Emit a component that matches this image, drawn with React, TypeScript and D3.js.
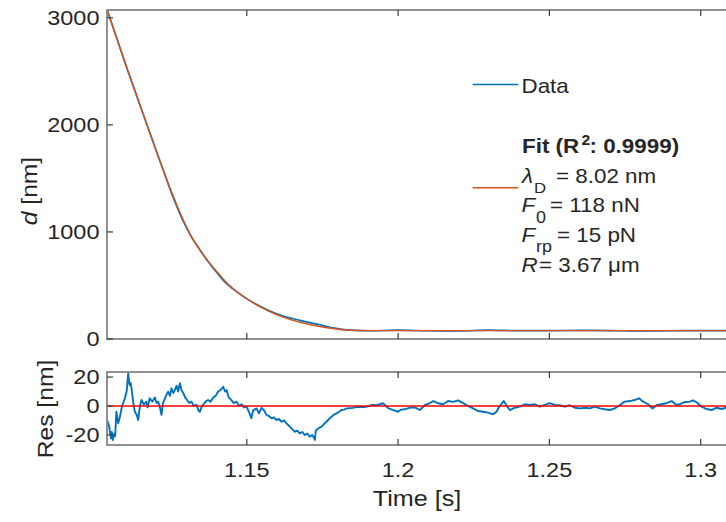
import React from 'react';
import * as d3 from 'd3';

// ---------- data ----------
const fitT = [1.1038, 1.1104, 1.1174, 1.1217, 1.1252, 1.1290, 1.1317, 1.1345, 1.1372, 1.1402, 1.1428, 1.1454, 1.1501, 1.1534, 1.1567, 1.1620, 1.1676, 1.1732, 1.1785, 1.1841, 1.1907, 1.2500, 1.3200];
const fitD = [3073, 2531, 1971, 1630, 1368, 1112, 957, 831, 727, 626, 542, 471, 374, 316, 268, 205, 156, 122, 98, 82, 78, 78, 78];

const dataT = [1.1038, 1.1104, 1.1174, 1.1217, 1.1252, 1.1290, 1.1317, 1.1345, 1.1372, 1.1402, 1.1428, 1.1454, 1.1501, 1.1534, 1.1567, 1.1620, 1.1676, 1.1732, 1.1785, 1.1841, 1.1907, 1.2000, 1.2100, 1.2200, 1.2300, 1.2400, 1.2500, 1.2600, 1.2700, 1.2800, 1.2900, 1.3000, 1.3200];
const dataD = [3080, 2526, 1968, 1633, 1358, 1101, 954, 833, 723, 616, 531, 468, 375, 319, 274, 215, 174, 139, 104, 83, 77, 82, 77, 76, 83, 78, 79, 80, 79, 75, 77, 78, 79];

const resT = [1.1038, 1.1045, 1.1051, 1.1054, 1.1057, 1.1062, 1.1065, 1.1069, 1.1075, 1.1080, 1.1088, 1.1097, 1.1103, 1.1108, 1.1111, 1.1113, 1.1116, 1.1119, 1.1125, 1.1130, 1.1136, 1.1141, 1.1147, 1.1152, 1.1160, 1.1168, 1.1172, 1.1179, 1.1188, 1.1196, 1.1202, 1.1207, 1.1213, 1.1218, 1.1223, 1.1229, 1.1235, 1.1240, 1.1246, 1.1251, 1.1257, 1.1262, 1.1268, 1.1273, 1.1279, 1.1284, 1.1290, 1.1296, 1.1303, 1.1310, 1.1317, 1.1325, 1.1334, 1.1340, 1.1345, 1.1350, 1.1356, 1.1364, 1.1372, 1.1380, 1.1389, 1.1397, 1.1405, 1.1413, 1.1422, 1.1428, 1.1433, 1.1440, 1.1449, 1.1457, 1.1466, 1.1474, 1.1483, 1.1490, 1.1499, 1.1507, 1.1515, 1.1521, 1.1532, 1.1540, 1.1549, 1.1557, 1.1565, 1.1573, 1.1582, 1.1590, 1.1598, 1.1606, 1.1615, 1.1623, 1.1631, 1.1636, 1.1642, 1.1650, 1.1659, 1.1667, 1.1675, 1.1683, 1.1692, 1.1700, 1.1708, 1.1716, 1.1722, 1.1725, 1.1728, 1.1730, 1.1740, 1.1747, 1.1755, 1.1763, 1.1772, 1.1780, 1.1788, 1.1796, 1.1805, 1.1813, 1.1822, 1.1830, 1.1840, 1.1851, 1.1862, 1.1873, 1.1885, 1.1896, 1.1907, 1.1917, 1.1928, 1.1940, 1.1950, 1.1960, 1.1967, 1.1984, 1.2000, 1.2010, 1.2022, 1.2039, 1.2055, 1.2072, 1.2088, 1.2105, 1.2116, 1.2132, 1.2149, 1.2165, 1.2182, 1.2198, 1.2215, 1.2231, 1.2248, 1.2264, 1.2281, 1.2297, 1.2314, 1.2325, 1.2336, 1.2349, 1.2358, 1.2369, 1.2386, 1.2402, 1.2419, 1.2435, 1.2452, 1.2468, 1.2485, 1.2501, 1.2518, 1.2534, 1.2551, 1.2567, 1.2584, 1.2601, 1.2617, 1.2634, 1.2650, 1.2667, 1.2683, 1.2700, 1.2716, 1.2733, 1.2749, 1.2766, 1.2782, 1.2796, 1.2810, 1.2826, 1.2841, 1.2854, 1.2870, 1.2887, 1.2904, 1.2920, 1.2931, 1.2947, 1.2964, 1.2975, 1.2986, 1.3003, 1.3019, 1.3036, 1.3052, 1.3069, 1.3083, 1.3100];
const resV = [-9.7, -14, -22.4, -18, -23.5, -19, -21, -4, -12, -8, 0, 5.3, 10, 22.6, 17, 14.5, 16, 12.2, 2, -4, -6, -9.7, 0, 4.1, 1, 3, -1, 5.3, 3, 5.9, 2, 3, -1, -6.2, 2, 5, 8, 9.9, 7, 12.2, 9, 11, 14, 10, 15.7, 11, 9, 6, 4.1, 2, 3, 0, 0.7, -3, -4, -1, 1, 3, 4.1, 3, 5.9, 7, 9.9, 11, 13.3, 10, 11, 6, 4.1, 2, 3, 0, 1.2, -1, -0.5, -4, -8.5, -3, -1.7, -5, -1.3, -3, -6.2, -7, -8.5, -8, -9.7, -9, -10.9, -10, -12, -13, -14.3, -16, -17.8, -17, -18.9, -18, -20.1, -19, -21.3, -20, -22, -23.5, -17, -16.6, -15, -14.3, -12.5, -10.9, -9, -7.4, -6, -5.1, -4, -2.8, -2.5, -1.7, -1.5, -1.3, -0.8, -0.5, -0.7, -0.5, 0.3, 0.7, 0.5, 1.2, 1.9, 0, -1.5, -2.8, -4, -2.5, -2.3, -1.2, -1.0, -2.8, 0.5, 1.9, 3.4, 1.9, 1.2, 3.4, 2.8, 3.9, 2.0, 0, -1.7, -3.5, -4, -4.6, -5.8, -4, 0, 3.4, 0.5, -2.8, -1.2, -0.5, 1.2, 0.7, 1.2, -0.5, 0.7, 1.9, 0.7, 0.5, -0.5, 0.5, -1.2, -1.7, -1.2, -1.7, -0.5, -1.7, -2.3, -2.8, -1.7, 0.7, 3.0, 3.4, 4.1, 5.3, 3.0, 1.2, -1.7, 0.5, 1.2, 1.9, 3.4, 0.7, 1.2, 2.6, 3.0, 3.9, 2.6, -0.5, -2.1, -2.8, -1.2, -2.1, -1.2, -0.5];

const xTicks = [1.15, 1.2, 1.25, 1.3];
const xTickLabels = ['1.15', '1.2', '1.25', '1.3'];
const dTicks = [0, 1000, 2000, 3000];
const dTickLabels = ['0', '1000', '2000', '3000'];
const resTicks = [-20, 0, 20];
const resTickLabels = ['-20', '0', '20'];

const BLUE = '#0072BD';
const ORANGE = '#D95319';
const RED = '#FF0000';
const TXT = '#262626';
const FONT = '"Liberation Sans", Arial, Helvetica, sans-serif';
const SX = 1.12;

type TP = { x: number; y: number; size: number; anchor?: string; weight?: string; italic?: boolean; rotate?: number; fill?: string; dy?: string; children: React.ReactNode };
function T({ x, y, size, anchor = 'start', weight = 'normal', italic = false, rotate = 0, fill = TXT, dy, children }: TP) {
  return (
    <g transform={`translate(${x},${y})${rotate ? ` rotate(${rotate})` : ''} scale(${SX},1)`}>
      <text x={0} y={0} dy={dy} textAnchor={anchor as any} fontSize={size} fontWeight={weight} fontStyle={italic ? 'italic' : 'normal'} fill={fill} fontFamily={FONT}>
        {children}
      </text>
    </g>
  );
}

export default function App() {
  const W = 726, H = 522;
  const L = 107, R = 760;
  const topY0 = 10, topY1 = 339;
  const resY0 = 372, resY1 = 445;

  const x = d3.scaleLinear().domain([1.1038, 1.3196]).range([L, R]);
  const yD = d3.scaleLinear().domain([0, 3073]).range([topY1, topY0]);
  const yR = d3.scaleLinear().domain([-27, 23.5]).range([resY1, resY0]);

  const lineD = d3.line<[number, number]>().x(d => x(d[0])).y(d => yD(d[1])).curve(d3.curveMonotoneX);
  const lineR = d3.line<[number, number]>().x(d => x(d[0])).y(d => yR(d[1]));

  const fitPts = fitT.map((t, i) => [t, fitD[i]] as [number, number]);
  const dataPts = dataT.map((t, i) => [t, dataD[i]] as [number, number]);
  const resPts = resT.map((t, i) => [t, resV[i]] as [number, number]);

  const BOX = '#858585';
  const TICK = '#3a3a3a';
  const tl = 6;

  return (
    <svg width={W} height={H} style={{ position: 'absolute', left: 0, top: 0, background: '#fff' }}>
      <rect x={0} y={0} width={W} height={H} fill="#fff" />
      <defs>
        <clipPath id="clipTop"><rect x={L} y={topY0} width={R - L} height={topY1 - topY0} /></clipPath>
      </defs>

      {/* ---------- top panel ---------- */}
      <g clipPath="url(#clipTop)">
        <path d={lineD(dataPts) || ''} fill="none" stroke={BLUE} strokeWidth={1.7} />
        <path d={lineD(fitPts) || ''} fill="none" stroke={ORANGE} strokeWidth={1.4} />
      </g>
      <rect x={L} y={topY0} width={R - L} height={topY1 - topY0} fill="none" stroke={BOX} strokeWidth={1.8} />
      {dTicks.map((v, i) => (
        <g key={'dt' + i}>
          <line x1={L} x2={L + tl} y1={yD(v)} y2={yD(v)} stroke={TICK} strokeWidth={1.2} />
          <T x={99.5} y={yD(v)} size={21} anchor="end" dy="0.35em">{dTickLabels[i]}</T>
        </g>
      ))}
      {xTicks.map((v, i) => (
        <g key={'xt1' + i}>
          <line x1={x(v)} x2={x(v)} y1={topY1} y2={topY1 - tl} stroke={TICK} strokeWidth={1.2} />
          <line x1={x(v)} x2={x(v)} y1={topY0} y2={topY0 + tl} stroke={TICK} strokeWidth={1.2} />
        </g>
      ))}
      <g transform={`translate(37,191) rotate(-90) scale(${SX},1)`}>
        <text textAnchor="middle" fontSize={22} fill={TXT} fontFamily={FONT}>
          <tspan fontStyle="italic">d</tspan><tspan> [nm]</tspan>
        </text>
      </g>

      {/* legend */}
      <line x1={472.7} x2={518.3} y1={84.5} y2={84.5} stroke={BLUE} strokeWidth={1.4} />
      <T x={521.5} y={93.3} size={20}>Data</T>
      <line x1={472.7} x2={518.3} y1={187.7} y2={187.7} stroke={ORANGE} strokeWidth={1.4} />
      <T x={522} y={153.3} size={20} weight="bold">Fit (R</T>
      <T x={581.5} y={145} size={14} weight="bold">2</T>
      <T x={589.5} y={153.3} size={20} weight="bold">: 0.9999)</T>

      <T x={522} y={182.7} size={20} italic>λ</T>
      <T x={534} y={193} size={15}>D</T>
      <T x={556} y={182.7} size={20}>= 8.02 nm</T>

      <T x={521.5} y={211.7} size={20} italic>F</T>
      <T x={536} y={222.5} size={16}>0</T>
      <T x={550} y={211.7} size={20}>= 118 nN</T>

      <T x={521.5} y={241.7} size={20} italic>F</T>
      <T x={536} y={252} size={16}>rp</T>
      <T x={557} y={241.7} size={20}>= 15 pN</T>

      <T x={521.5} y={271.7} size={20} italic>R</T>
      <T x={539} y={271.7} size={20}>= 3.67 μm</T>

      {/* ---------- residual panel ---------- */}
      <path d={lineR(resPts) || ''} fill="none" stroke={BLUE} strokeWidth={1.9} strokeLinejoin="round" />
      <line x1={L} x2={R} y1={yR(0)} y2={yR(0)} stroke={RED} strokeWidth={1.4} />
      <rect x={L} y={resY0} width={R - L} height={resY1 - resY0} fill="none" stroke={BOX} strokeWidth={1.8} />
      {resTicks.map((v, i) => (
        <g key={'rt' + i}>
          <line x1={L} x2={L + tl} y1={yR(v)} y2={yR(v)} stroke={TICK} strokeWidth={1.2} />
          <T x={99.5} y={yR(v)} size={21} anchor="end" dy="0.35em">{resTickLabels[i]}</T>
        </g>
      ))}
      {xTicks.map((v, i) => (
        <g key={'xt2' + i}>
          <line x1={x(v)} x2={x(v)} y1={resY1} y2={resY1 - tl} stroke={TICK} strokeWidth={1.2} />
          <line x1={x(v)} x2={x(v)} y1={resY0} y2={resY0 + tl} stroke={TICK} strokeWidth={1.2} />
          <T x={x(v)} y={477} size={21} anchor="middle">{xTickLabels[i]}</T>
        </g>
      ))}
      <T x={53} y={409} size={22} anchor="middle" rotate={-90}>Res [nm]</T>
      <T x={417} y={506} size={22.5} anchor="middle">Time [s]</T>
    </svg>
  );
}
